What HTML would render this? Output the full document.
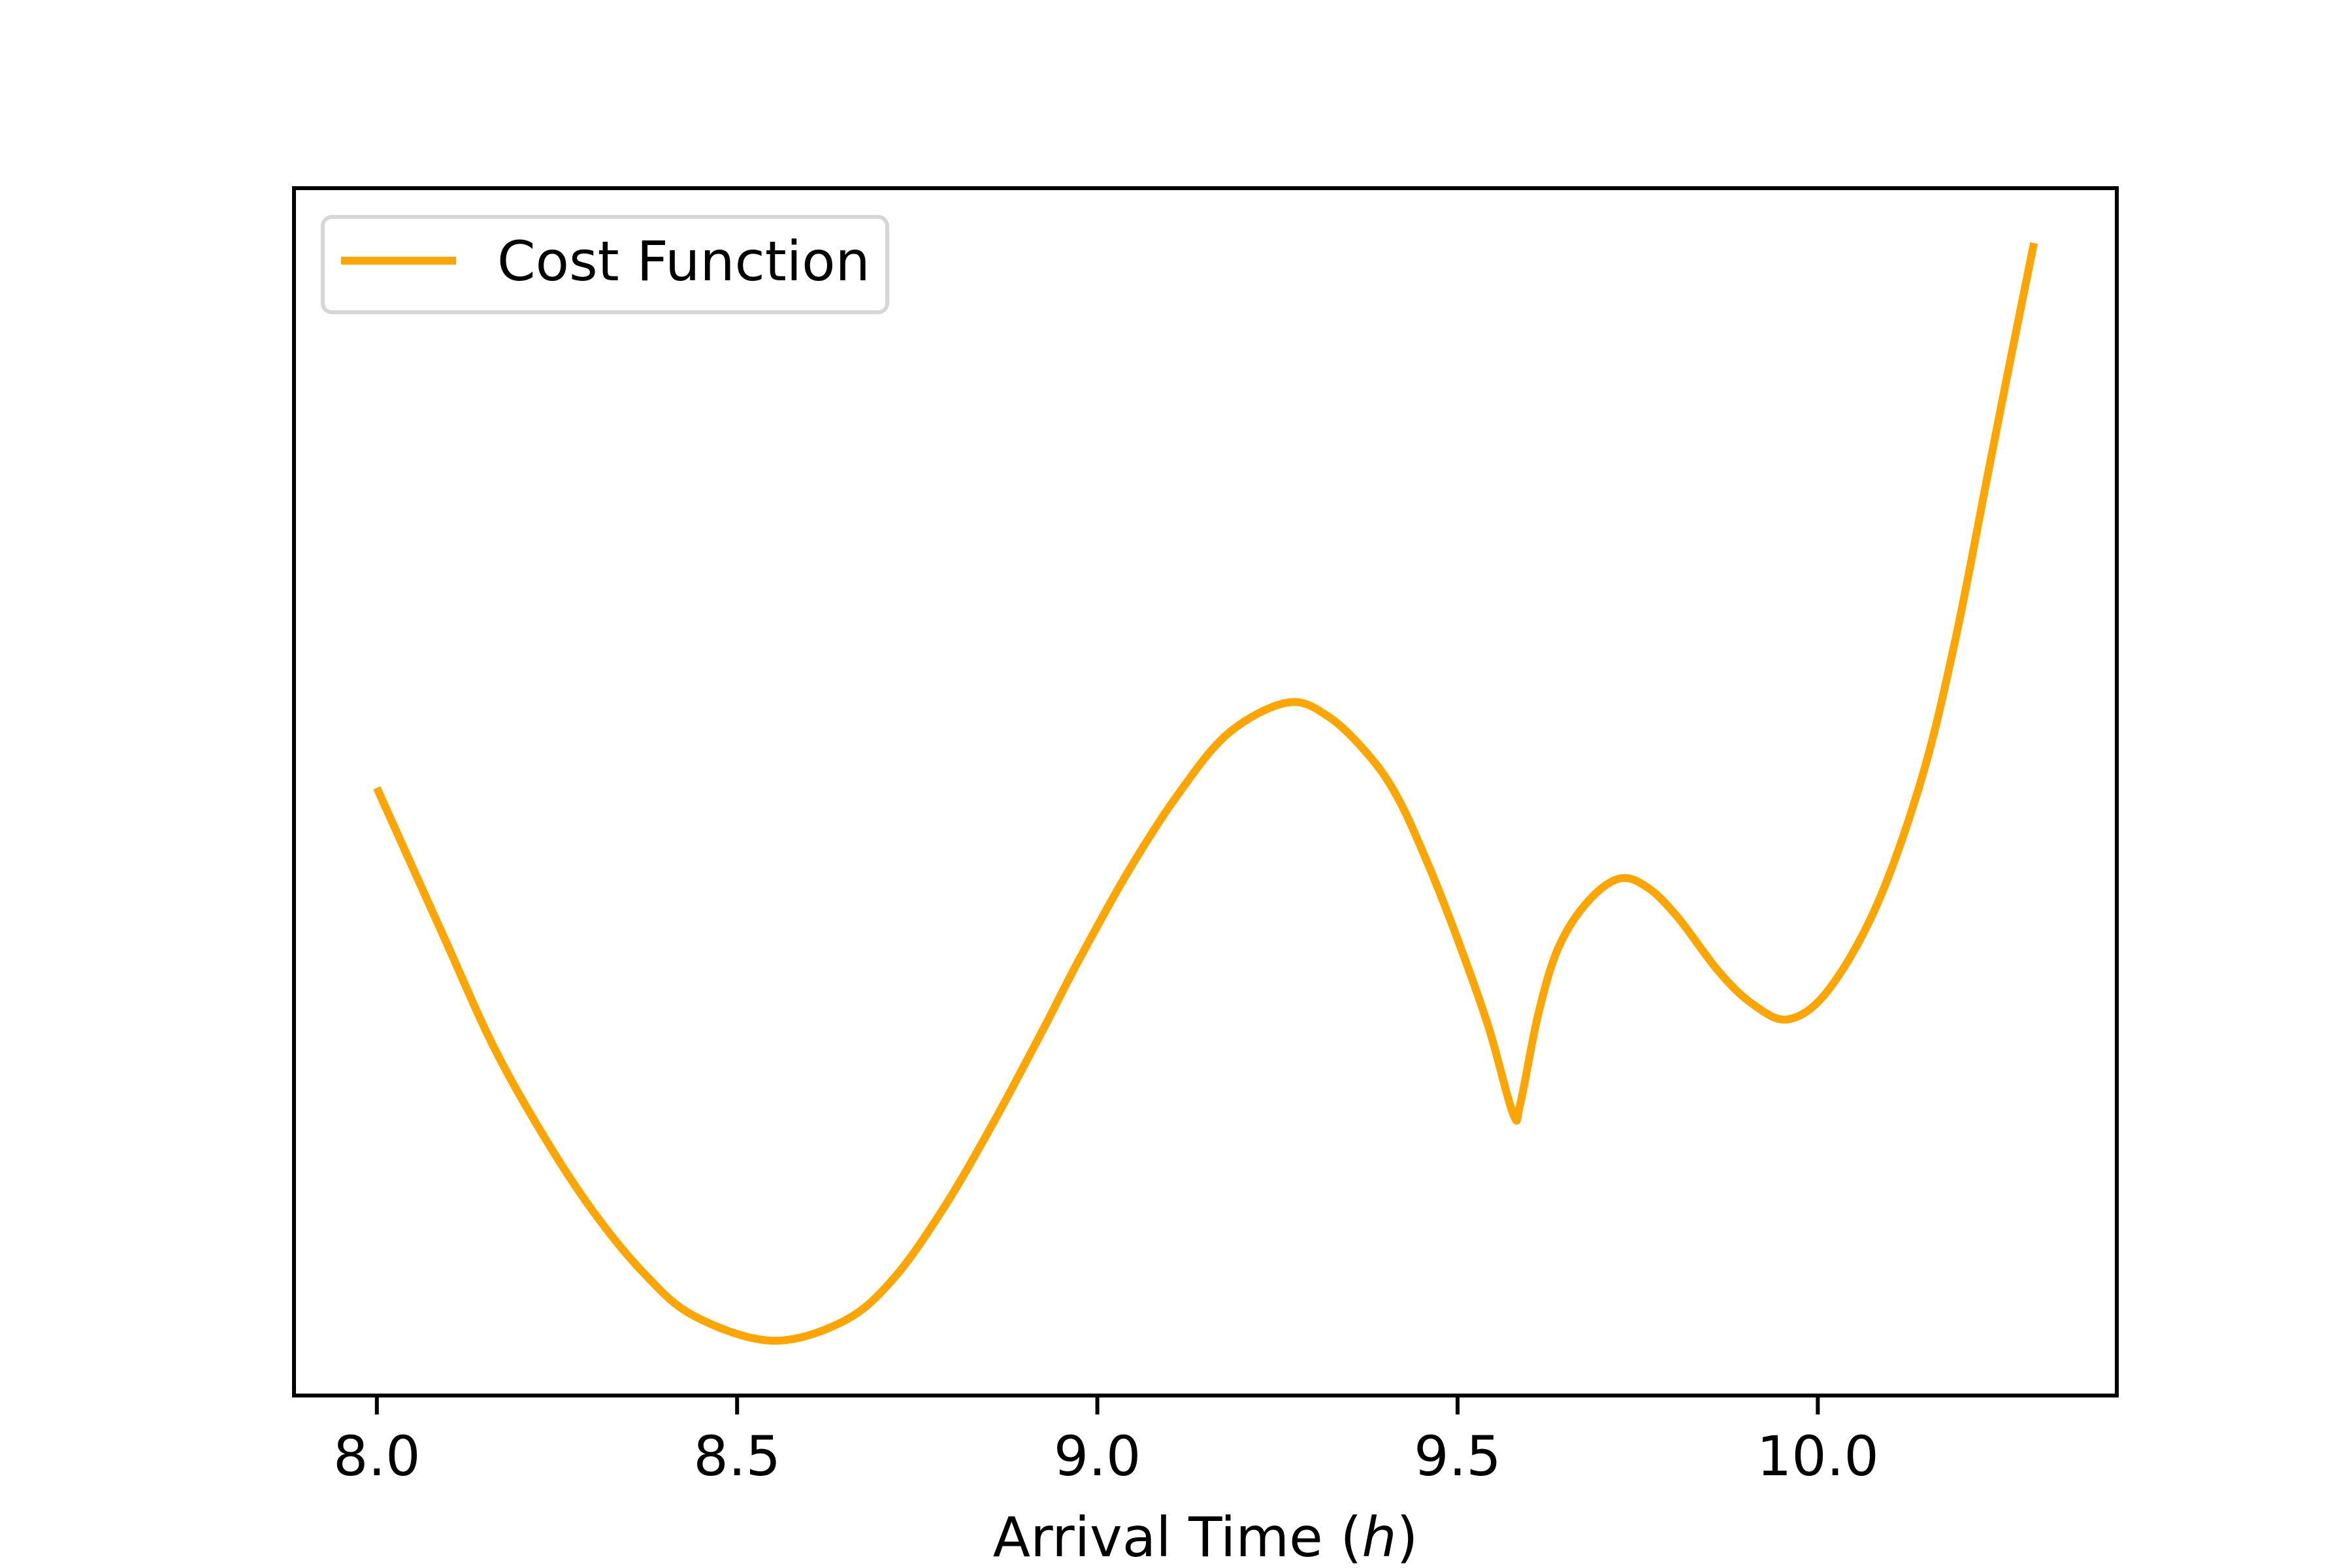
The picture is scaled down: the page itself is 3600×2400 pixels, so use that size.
<!DOCTYPE html>
<html><head><meta charset="utf-8"><style>
html,body{margin:0;padding:0;background:#fff;}
svg{display:block;}
text{font-family:"DejaVu Sans","Liberation Sans",sans-serif;fill:#000;}
</style></head><body>
<svg id="chart" width="3600" height="2400" viewBox="0 0 3600 2400" xmlns="http://www.w3.org/2000/svg">
<rect x="0" y="0" width="3600" height="2400" fill="#fff"/>
<g id="plot"></g>
<g id="xticks"></g>
<rect x="450" y="288" width="2790" height="1848" fill="none" stroke="#000" stroke-width="6"/>
<text x="1845" y="2382" font-size="84" text-anchor="middle">Arrival Time (<tspan font-style="italic">h</tspan>)</text>
<g>
<rect x="494" y="332" width="864" height="146" rx="14" fill="#fff" fill-opacity="0.8" stroke="#d6d6d6" stroke-width="6"/>
<line x1="522" y1="399" x2="698" y2="399" stroke="#FFA500" stroke-width="12"/>
<text x="761" y="429" font-size="84">Cost Function</text>
</g>
</svg>
<script>
const hours = [8.0,8.094,8.162,8.232,8.301,8.371,8.440,8.548,8.648,8.717,8.787,8.856,8.926,8.973,9.043,9.112,9.182,9.264,9.320,9.376,9.417,9.459,9.501,9.543,9.577,9.587,9.612,9.640,9.681,9.725,9.764,9.806,9.862,9.910,9.959,10.014,10.081,10.144,10.191,10.237,10.269,10.300];
const cost = [996,765,599,461,345,251,186,148,178,243,352,483,628,729,868,986,1080,1127,1106,1047,981,879,761,629,496,511,649,751,822,857,843,797,715,664,641,685,814,1010,1224,1483,1662,1832];
const xTickValues = [8.0,8.5,9.0,9.5,10.0];
const xTickLabels = ["8.0","8.5","9.0","9.5","10.0"];

const AX = {left:450,right:3240,top:288,bottom:2136};
const xmin = Math.min(...hours), xmax = Math.max(...hours);
const xpad = (xmax-xmin)*0.05;
const ymin = Math.min(...cost), ymax = Math.max(...cost);
const ypad = (ymax-ymin)*0.05;
function xScale(v){return AX.left + (v-(xmin-xpad))/((xmax+xpad)-(xmin-xpad))*(AX.right-AX.left);}
function yScale(v){return AX.bottom - (v-(ymin-ypad))/((ymax+ypad)-(ymin-ypad))*(AX.bottom-AX.top);}
const NS="http://www.w3.org/2000/svg";

const pts = hours.map((h,i)=>[xScale(h),yScale(cost[i])]);
let d = "M"+pts[0][0].toFixed(1)+","+pts[0][1].toFixed(1);
for(let i=0;i<pts.length-1;i++){
  const p0=pts[Math.max(0,i-1)],p1=pts[i],p2=pts[i+1],p3=pts[Math.min(pts.length-1,i+2)];
  const t=1/6;
  const c1=[p1[0]+(p2[0]-p0[0])*t,p1[1]+(p2[1]-p0[1])*t];
  const c2=[p2[0]-(p3[0]-p1[0])*t,p2[1]-(p3[1]-p1[1])*t];
  d+=" C"+c1[0].toFixed(1)+","+c1[1].toFixed(1)+" "+c2[0].toFixed(1)+","+c2[1].toFixed(1)+" "+p2[0].toFixed(1)+","+p2[1].toFixed(1);
}
const path=document.createElementNS(NS,"path");
path.setAttribute("d",d);
path.setAttribute("fill","none");
path.setAttribute("stroke","#FFA500");
path.setAttribute("stroke-width","12");
path.setAttribute("stroke-linejoin","round");


document.getElementById("plot").appendChild(path);

const tg=document.getElementById("xticks");
xTickValues.forEach((v,i)=>{
  const x=xScale(v);
  const ln=document.createElementNS(NS,"line");
  ln.setAttribute("x1",x);ln.setAttribute("x2",x);
  ln.setAttribute("y1",AX.bottom);ln.setAttribute("y2",AX.bottom+29);
  ln.setAttribute("stroke","#000");ln.setAttribute("stroke-width","6");
  
  
  tg.appendChild(ln);
  const tx=document.createElementNS(NS,"text");
  tx.setAttribute("x",x);tx.setAttribute("y",2258);
  tx.setAttribute("font-size","84");tx.setAttribute("text-anchor","middle");
  tx.textContent=xTickLabels[i];
  
  
  tg.appendChild(tx);
});
</script>
</body></html>
